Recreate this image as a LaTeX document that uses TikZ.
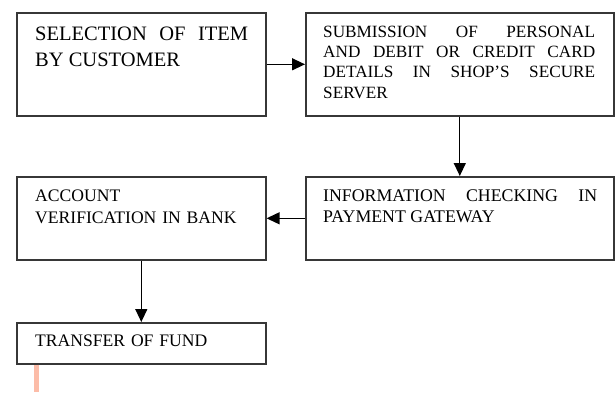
\documentclass[tikz,border=0pt]{standalone}
\usepackage{fontspec}
\setmainfont{Liberation Serif}
\usetikzlibrary{arrows.meta}
\definecolor{boxline}{RGB}{55,55,55}
\definecolor{salmonline}{RGB}{252,188,168}
\tikzset{
  flowbox/.style={draw=boxline, line width=1.6pt, rectangle, inner sep=0pt, anchor=north west},
  boxtext/.style={anchor=north west, inner sep=0pt, align=justify},
  flowarrow/.style={draw=black, line width=1.3pt, -{Triangle[length=13pt,width=12pt]}}
}
\newcommand{\bx}[1]{\hyphenpenalty=10000\exhyphenpenalty=10000\tolerance=10000\emergencystretch=0pt #1}
\begin{document}
\begin{tikzpicture}[x=1pt,y=-1pt]
\useasboundingbox (0,0) rectangle (615,392);
% boxes
\node[flowbox, minimum width=249pt, minimum height=103pt] (b1) at (16,12) {};
\node[flowbox, minimum width=308pt, minimum height=103pt] (b2) at (305,12) {};
\node[flowbox, minimum width=308pt, minimum height=83pt] (b4) at (305,176) {};
\node[flowbox, minimum width=249pt, minimum height=83pt] (b3) at (16,176) {};
\node[flowbox, minimum width=249pt, minimum height=41pt] (b5) at (16,322) {};
% texts
\node[boxtext, text width=213pt, font=\fontsize{20.5}{26}\selectfont] (t1) at (35,27)
  {\bx{SELECTION OF ITEM\linebreak BY CUSTOMER}};
\node[boxtext, text width=272pt, font=\fontsize{17.2}{20.2}\selectfont] (t2) at (323,26)
  {\bx{SUBMISSION OF PERSONAL\linebreak AND DEBIT OR CREDIT CARD\linebreak DETAILS IN SHOP'S SECURE\linebreak SERVER}};
\node[boxtext, text width=274pt, font=\fontsize{17.8}{20.5}\selectfont] (t4) at (323,190)
  {\bx{INFORMATION CHECKING IN\linebreak PAYMENT GATEWAY}};
\node[boxtext, text width=220pt, align=left, font=\fontsize{17.6}{22}\selectfont] (t3) at (35,190)
  {ACCOUNT\\ VERIFICATION IN BANK};
\node[boxtext, text width=220pt, align=left, font=\fontsize{17.6}{22}\selectfont] (t5) at (35,335)
  {TRANSFER OF FUND};
% connectors
\draw[flowarrow] (b1.east) -- (b2.west);
\draw[flowarrow] (b2.south) -- (b4.north);
\draw[flowarrow] (b4.west) -- (b3.east);
\draw[flowarrow] (b3.south) -- (b5.north);
\coordinate (tail) at (36.5,392);
\draw[salmonline, line width=5pt] (tail |- b5.south) -- (tail);
\end{tikzpicture}
\end{document}
